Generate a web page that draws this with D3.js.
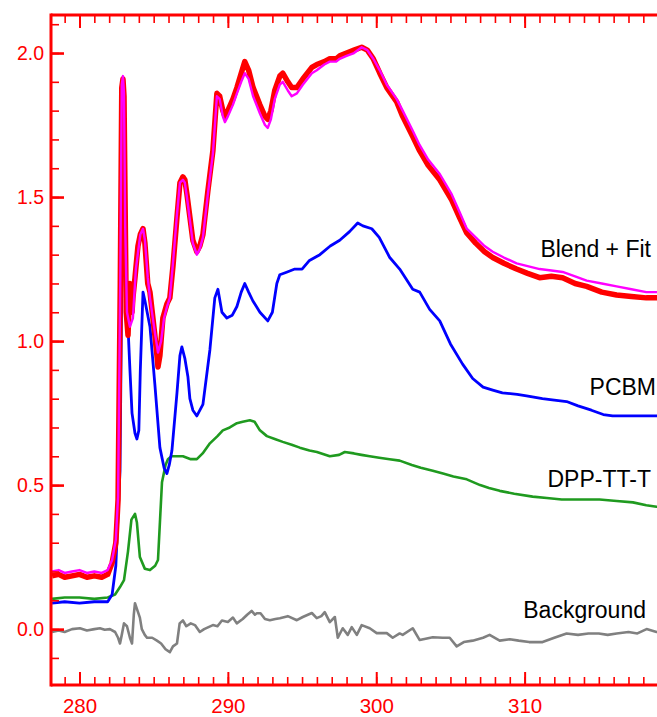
<!DOCTYPE html>
<html>
<head>
<meta charset="utf-8">
<script src="https://cdn.jsdelivr.net/npm/d3@7"></script>
<style>
  html, body { margin: 0; padding: 0; background: #fff; }
  svg { display: block; }
</style>
</head>
<body>
<svg id="chart" width="657" height="717"></svg>
<script>
// Photon energy (eV) and absorption for each spectrum
const blendX = [278.15,278.6,279.0,279.5,280.0,280.5,281.0,281.5,281.9,282.2,282.45,282.6,282.75,282.85,282.93,283.0,283.08,283.15,283.27,283.4,283.54,283.6,283.74,283.94,284.1,284.28,284.41,284.6,284.75,285.08,285.22,285.29,285.42,285.62,285.9,286.09,286.3,286.57,286.77,286.97,287.1,287.24,287.44,287.64,287.91,288.11,288.32,288.65,288.99,289.26,289.45,289.66,289.8,290.0,290.34,290.61,290.9,291.14,291.4,291.7,292.16,292.5,292.69,292.9,293.16,293.5,293.7,294.04,294.3,294.65,295.05,295.66,295.99,296.5,296.87,297.3,297.54,298.0,298.5,299.02,299.4,299.8,300.24,300.71,301.38,301.78,302.46,302.93,303.5,304.28,305.08,305.6,306.1,306.7,307.3,307.85,308.6,309.46,310.2,311.01,311.8,312.56,313.4,314.18,315.2,316.2,317.2,318.2,318.9,319.77];
const blendY = [0.185,0.19,0.18,0.185,0.19,0.18,0.185,0.18,0.19,0.23,0.30,0.45,1.20,1.88,1.91,1.85,1.45,1.10,1.02,1.20,1.10,1.15,1.22,1.33,1.37,1.39,1.34,1.20,1.17,1.02,0.95,0.91,0.95,1.08,1.13,1.15,1.26,1.43,1.55,1.57,1.56,1.51,1.43,1.35,1.31,1.33,1.37,1.52,1.66,1.86,1.85,1.80,1.78,1.80,1.84,1.88,1.93,1.97,1.94,1.88,1.82,1.78,1.77,1.80,1.87,1.92,1.93,1.90,1.88,1.88,1.91,1.95,1.96,1.97,1.98,1.98,1.99,2.00,2.01,2.02,2.01,1.98,1.93,1.88,1.83,1.78,1.71,1.66,1.61,1.56,1.49,1.43,1.375,1.34,1.31,1.29,1.27,1.25,1.235,1.22,1.225,1.22,1.20,1.19,1.17,1.16,1.155,1.15,1.15,1.15];

const fitX = [278.15,278.6,279.0,279.5,280.0,280.5,281.0,281.5,281.9,282.2,282.45,282.6,282.75,282.85,282.93,283.0,283.08,283.2,283.4,283.6,283.8,284.1,284.28,284.41,284.6,284.75,285.08,285.29,285.5,285.7,285.9,286.09,286.3,286.57,286.77,286.97,287.1,287.24,287.44,287.64,287.91,288.11,288.32,288.65,288.99,289.26,289.45,289.66,289.8,290.0,290.34,290.61,290.9,291.14,291.4,291.7,292.16,292.5,292.69,292.9,293.16,293.5,293.7,294.04,294.3,294.65,295.05,295.66,295.99,296.5,296.87,297.3,297.54,298.0,298.5,299.02,299.4,299.8,300.24,300.71,301.38,301.78,302.46,302.93,303.5,304.28,305.08,305.6,306.1,306.7,307.3,307.85,308.6,309.46,310.2,311.01,311.8,312.56,313.4,314.18,315.2,316.2,317.2,318.2,318.9,319.77];
const fitY = [0.20,0.205,0.195,0.20,0.205,0.195,0.20,0.195,0.205,0.24,0.31,0.46,1.22,1.89,1.92,1.86,1.40,1.10,1.05,1.08,1.25,1.37,1.39,1.35,1.22,1.15,1.03,0.96,1.00,1.08,1.12,1.15,1.27,1.44,1.55,1.56,1.55,1.50,1.42,1.34,1.30,1.32,1.36,1.51,1.65,1.85,1.84,1.78,1.76,1.78,1.82,1.86,1.90,1.93,1.91,1.85,1.79,1.75,1.74,1.77,1.84,1.89,1.90,1.87,1.85,1.86,1.89,1.93,1.94,1.96,1.97,1.97,1.98,1.99,2.00,2.02,2.01,1.98,1.94,1.89,1.84,1.80,1.73,1.68,1.63,1.58,1.51,1.45,1.39,1.36,1.33,1.31,1.29,1.27,1.26,1.25,1.245,1.24,1.225,1.21,1.20,1.19,1.18,1.17,1.17,1.17];

const pcbmX = [278.15,279.0,280.0,281.0,281.9,282.2,282.45,282.6,282.73,282.85,282.93,283.0,283.1,283.27,283.4,283.54,283.74,283.87,284.0,284.1,284.28,284.41,284.75,285.08,285.42,285.7,285.89,286.05,286.23,286.57,286.77,286.9,287.1,287.31,287.44,287.64,287.91,288.32,288.79,289.12,289.33,289.6,289.93,290.3,290.61,290.9,291.14,291.4,291.68,292.16,292.69,293.0,293.3,293.5,294.0,294.51,295.0,295.5,296.2,296.9,297.54,298.2,298.75,299.1,299.7,300.2,300.91,301.58,302.46,302.93,303.6,304.28,305.0,305.82,306.5,307.2,307.85,308.5,309.5,310.13,311.2,312.0,312.83,313.6,314.5,315.3,315.93,317.0,318.89,319.77];
const pcbmY = [0.09,0.095,0.09,0.095,0.095,0.12,0.22,0.40,0.55,1.20,1.58,1.45,1.15,1.05,0.90,0.75,0.68,0.66,0.69,0.90,1.17,1.14,1.05,0.85,0.63,0.56,0.54,0.57,0.62,0.82,0.95,0.98,0.94,0.875,0.80,0.76,0.74,0.78,0.97,1.15,1.18,1.10,1.08,1.09,1.12,1.17,1.20,1.17,1.14,1.10,1.07,1.10,1.20,1.23,1.24,1.25,1.25,1.28,1.30,1.33,1.35,1.38,1.41,1.40,1.39,1.36,1.29,1.25,1.18,1.17,1.11,1.07,0.99,0.92,0.87,0.84,0.83,0.82,0.815,0.81,0.80,0.795,0.79,0.775,0.76,0.745,0.74,0.74,0.74,0.74];

const dppX = [278.15,279.0,280.0,281.0,281.9,282.4,282.73,283.0,283.27,283.5,283.74,283.87,284.07,284.4,284.75,285.1,285.29,285.45,285.56,285.8,285.96,286.2,286.57,286.97,287.5,287.91,288.3,288.79,289.3,289.66,290.13,290.61,291.0,291.48,291.8,292.16,292.63,293.16,293.7,294.3,294.85,295.5,296.0,296.87,297.5,297.88,298.5,299.0,299.56,300.2,300.9,301.58,302.4,303.0,303.81,304.5,305.2,306.1,307.0,307.6,308.32,309.3,310.54,311.5,312.5,313.5,315.05,316.2,317.3,318.2,318.89,319.77];
const dppY = [0.105,0.11,0.11,0.105,0.11,0.12,0.146,0.17,0.27,0.38,0.40,0.37,0.25,0.21,0.205,0.22,0.24,0.40,0.51,0.57,0.59,0.60,0.60,0.60,0.59,0.59,0.61,0.645,0.67,0.69,0.70,0.715,0.72,0.725,0.72,0.69,0.67,0.66,0.65,0.64,0.63,0.62,0.615,0.60,0.605,0.615,0.61,0.605,0.60,0.595,0.59,0.585,0.57,0.56,0.55,0.54,0.53,0.52,0.50,0.49,0.48,0.47,0.46,0.455,0.45,0.45,0.45,0.445,0.44,0.43,0.425,0.42];

const bgX = [278.15,278.6,279.0,279.5,280.03,280.5,281.0,281.38,281.7,282.05,282.4,282.6,282.73,282.85,283.0,283.2,283.4,283.54,283.66,283.74,283.87,284.07,284.2,284.4,284.55,284.9,285.22,285.5,285.8,286.09,286.3,286.57,286.75,286.97,287.2,287.5,287.78,288.11,288.4,288.99,289.3,289.6,290.0,290.34,290.6,291.0,291.3,291.6,291.82,291.95,292.2,292.5,292.83,293.2,293.5,294.04,294.65,295.05,295.66,295.99,296.3,296.53,296.87,297.21,297.41,297.74,298.08,298.35,298.69,299.02,299.56,300.03,300.71,301.11,301.58,301.78,302.46,302.93,303.81,304.48,304.95,305.42,305.9,306.5,307.2,307.64,308.32,309.0,309.6,310.3,311.21,312.0,312.83,313.6,314.3,315.0,315.6,316.2,317.0,317.6,318.22,318.89,319.77];
const bgY = [-0.01,-0.005,-0.01,0.0,0.003,-0.005,0.0,0.003,-0.002,0.0,-0.01,-0.03,-0.05,-0.02,0.02,0.01,-0.03,-0.05,0.05,0.09,0.07,0.04,0.0,-0.02,-0.03,-0.03,-0.04,-0.05,-0.07,-0.08,-0.06,-0.05,0.02,0.03,0.01,0.02,0.014,-0.01,0.0,0.014,0.01,0.03,0.025,0.04,0.02,0.035,0.05,0.063,0.05,0.055,0.055,0.035,0.031,0.035,0.038,0.045,0.031,0.042,0.056,0.038,0.045,0.059,0.024,0.042,-0.03,0.003,-0.02,0.007,-0.02,0.014,0.003,-0.014,-0.014,-0.03,-0.015,-0.02,0.003,-0.038,-0.028,-0.03,-0.03,-0.06,-0.045,-0.04,-0.03,-0.02,-0.04,-0.035,-0.04,-0.045,-0.045,-0.03,-0.015,-0.02,-0.015,-0.015,-0.02,-0.015,-0.01,-0.015,0.0,-0.01,-0.005];

// Axis ticks
const xMajorTicks = [280, 290, 300, 310];
const xMinorTicks = d3.range(279, 321, 1);
const yMajorTicks = [0.0, 0.5, 1.0, 1.5, 2.0];
const yMinorTicks = d3.range(-1, 22, 1).map(v => v / 10);

// Series labels
const labels = ["Blend + Fit", "PCBM", "DPP-TT-T", "Background"];

const svg = d3.select("#chart");
const mLeft = 51, mTop = 15, mBottom = 685, mRight = 673;
const axisColor = "#ff0000";
const font = "'Liberation Sans', Arial, Helvetica, sans-serif";

const x = d3.scaleLinear().domain([278.08, 320]).range([mLeft, mRight]);
const y = d3.scaleLinear().domain([-0.194, 2.132]).range([mBottom, mTop]);

svg.append("defs").append("clipPath").attr("id", "plot-clip")
  .append("rect").attr("x", mLeft).attr("y", mTop)
  .attr("width", mRight - mLeft).attr("height", mBottom - mTop);

const plot = svg.append("g").attr("clip-path", "url(#plot-clip)");

const line = d3.line().x(d => x(d[0])).y(d => y(d[1]));
const zipSeries = (xs, ys) => xs.map((v, i) => [v, ys[i]]);

const series = [
  { xs: bgX,    ys: bgY,    color: "#808080", width: 2.6 },
  { xs: dppX,   ys: dppY,   color: "#1f9a1f", width: 2.6 },
  { xs: pcbmX,  ys: pcbmY,  color: "#0000ff", width: 2.8 },
  { xs: blendX, ys: blendY, color: "#ff0000", width: 5.5 },
  { xs: fitX,   ys: fitY,   color: "#ff00ff", width: 2.4 }
];

series.forEach(s => {
  plot.append("path")
    .datum(zipSeries(s.xs, s.ys))
    .attr("fill", "none")
    .attr("stroke", s.color)
    .attr("stroke-width", s.width)
    .attr("stroke-linejoin", "round")
    .attr("d", line);
});

// Frame axes with inward ticks
function styleAxis(g, width) {
  g.selectAll(".domain").remove();
  g.selectAll(".tick line").attr("stroke", axisColor).attr("stroke-width", width);
  g.selectAll("text").attr("fill", axisColor).attr("font-family", font);
}

// bottom
svg.append("g").attr("transform", `translate(0,${mBottom})`)
  .call(d3.axisBottom(x).tickValues(xMinorTicks).tickSize(-8).tickFormat(""))
  .call(g => styleAxis(g, 1.6));
svg.append("g").attr("transform", `translate(0,${mBottom})`)
  .call(d3.axisBottom(x).tickValues(xMajorTicks).tickSize(-13).tickPadding(13).tickFormat(d3.format("d")))
  .call(g => styleAxis(g, 2))
  .call(g => g.selectAll("text").attr("font-size", 20.5));

// top
svg.append("g").attr("transform", `translate(0,${mTop})`)
  .call(d3.axisTop(x).tickValues(xMinorTicks).tickSize(-8).tickFormat(""))
  .call(g => styleAxis(g, 1.6));
svg.append("g").attr("transform", `translate(0,${mTop})`)
  .call(d3.axisTop(x).tickValues(xMajorTicks).tickSize(-13).tickFormat(""))
  .call(g => styleAxis(g, 2));

// left
svg.append("g").attr("transform", `translate(${mLeft},0)`)
  .call(d3.axisLeft(y).tickValues(yMinorTicks).tickSize(-8).tickFormat(""))
  .call(g => styleAxis(g, 1.6));
svg.append("g").attr("transform", `translate(${mLeft},0)`)
  .call(d3.axisLeft(y).tickValues(yMajorTicks).tickSize(-13).tickPadding(7).tickFormat(d3.format(".1f")))
  .call(g => styleAxis(g, 2.6))
  .call(g => g.selectAll("text").attr("font-size", 19.5));

// frame lines
svg.append("line").attr("x1", mLeft).attr("x2", 657).attr("y1", mTop).attr("y2", mTop)
  .attr("stroke", axisColor).attr("stroke-width", 3);
svg.append("line").attr("x1", mLeft).attr("x2", 657).attr("y1", mBottom).attr("y2", mBottom)
  .attr("stroke", axisColor).attr("stroke-width", 3);
svg.append("line").attr("x1", mLeft).attr("x2", mLeft).attr("y1", mTop - 1.5).attr("y2", mBottom + 1.5)
  .attr("stroke", axisColor).attr("stroke-width", 3);

// series labels
const labelPos = [[651, 257], [656, 395], [651, 487], [646, 618]];
svg.append("g").selectAll("text").data(labels).join("text")
  .attr("x", (d, i) => labelPos[i][0])
  .attr("y", (d, i) => labelPos[i][1])
  .attr("text-anchor", "end")
  .attr("font-family", font)
  .attr("font-size", 23)
  .attr("fill", "#000")
  .text(d => d);
</script>
</body>
</html>
